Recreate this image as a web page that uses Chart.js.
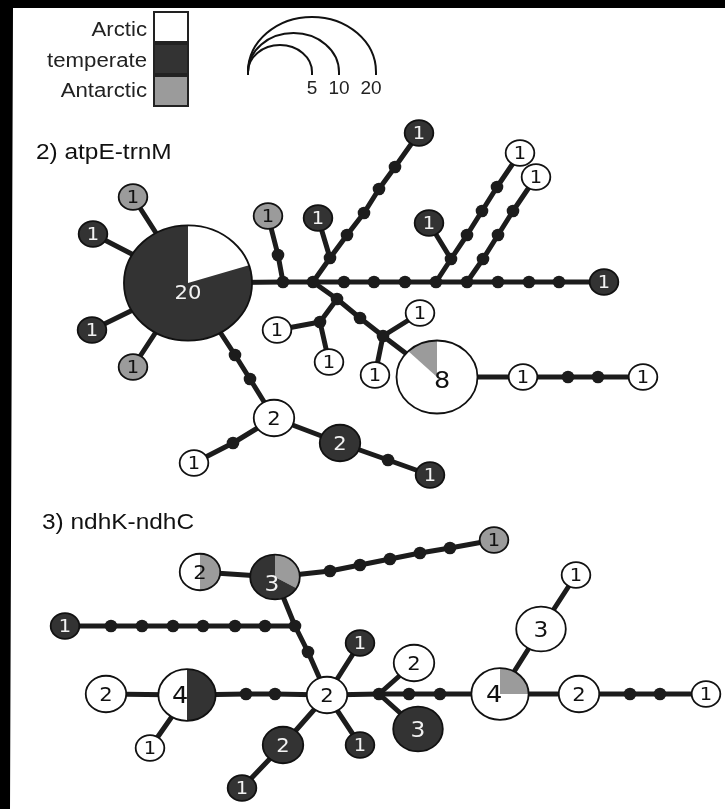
<!DOCTYPE html>
<html><head><meta charset="utf-8">
<script src="https://cdn.jsdelivr.net/npm/chart.js@4.4.1/dist/chart.umd.min.js"></script>
<style>html,body{margin:0;padding:0;background:#fff;overflow:hidden}canvas{display:block}</style>
</head><body>
<div style="width:725px;height:809px"><canvas id="c" width="725" height="809"></canvas></div>
<script>
// ---------------- DATA ----------------
const regions = ["Arctic", "temperate", "Antarctic"];
const sizeScaleValues = [5, 10, 20];
const panelTitles = ["2) atpE-trnM", "3) ndhK-ndhC"];

// haplotypes: [id, x, y, slices clockwise from 12 o'clock as [regionIndex, count]]
const atpNodes = [
  ["A20",188,283,[[0,4],[1,16]]],
  ["g1a",133,197,[[2,1]]],
  ["d1a",93,234,[[1,1]]],
  ["d1b",92,330,[[1,1]]],
  ["g1b",133,367,[[2,1]]],
  ["g1c",268,216,[[2,1]]],
  ["d1c",318,218,[[1,1]]],
  ["d1d",419,133,[[1,1]]],
  ["d1e",429,223,[[1,1]]],
  ["w1a",520,153,[[0,1]]],
  ["w1b",536,177,[[0,1]]],
  ["d1f",604,282,[[1,1]]],
  ["w1c",277,330,[[0,1]]],
  ["w1d",329,362,[[0,1]]],
  ["w1e",420,313,[[0,1]]],
  ["w1f",375,375,[[0,1]]],
  ["W8",437,377,[[0,7],[2,1]]],
  ["w1g",523,377,[[0,1]]],
  ["w1h",643,377,[[0,1]]],
  ["w2a",274,418,[[0,2]]],
  ["w1i",194,463,[[0,1]]],
  ["d2a",340,443,[[1,2]]],
  ["d1g",430,475,[[1,1]]]
];
// median vectors / mutation steps: [id, x, y]
const atpMedians = [
  ["m1",278,255],["j1",283,282],["j2",313,282],["h1",344,282],["h2",374,282],["h3",405,282],
  ["j3",436,282],["j4",467,282],["h4",498,282],["h5",529,282],["h6",559,282],
  ["j5",330,258],["a2",347,235],["a3",364,213],["a4",379,189],["a5",395,167],
  ["j6",451,259],["b2",467,235],["b3",482,211],["b4",497,187],
  ["c1",483,259],["c2",498,235],["c3",513,211],
  ["j7",337,299],["j8",320,322],["k1",360,318],["j9",383,336],
  ["r1",568,377],["r2",598,377],
  ["s1",235,355],["s2",250,379],["s3",233,443],["s4",388,460]
];
const atpPaths = [
  ["A20","j1","j2","h1","h2","h3","j3","j4","h4","h5","h6","d1f"],
  ["A20","g1a"],["A20","d1a"],["A20","d1b"],["A20","g1b"],
  ["g1c","m1","j1"],
  ["j2","j5","a2","a3","a4","a5","d1d"],
  ["d1c","j5"],
  ["j3","j6","b2","b3","b4","w1a"],
  ["d1e","j6"],
  ["j4","c1","c2","c3","w1b"],
  ["j2","j7","k1","j9","W8","w1g","r1","r2","w1h"],
  ["j7","j8","w1c"],["j8","w1d"],
  ["j9","w1e"],["j9","w1f"],
  ["A20","s1","s2","w2a","d2a","s4","d1g"],
  ["w2a","s3","w1i"]
];

const ndhNodes = [
  ["wg2",200,572,[[2,1],[0,1]]],
  ["dg3",275,577,[[2,1],[1,2]]],
  ["g1",494,540,[[2,1]]],
  ["d1L",65,626,[[1,1]]],
  ["w2c",327,695,[[0,2]]],
  ["d1u",360,643,[[1,1]]],
  ["d1dr",360,745,[[1,1]]],
  ["d2b",283,745,[[1,2]]],
  ["d1bl",242,788,[[1,1]]],
  ["w2ur",414,663,[[0,2]]],
  ["d3",418,729,[[1,3]]],
  ["W4L",187,695,[[1,2],[0,2]]],
  ["w2L",106,694,[[0,2]]],
  ["w1L",150,748,[[0,1]]],
  ["W4R",500,694,[[2,1],[0,3]]],
  ["w3",541,629,[[0,3]]],
  ["w1t",576,575,[[0,1]]],
  ["w2R",579,694,[[0,2]]],
  ["w1R",706,694,[[0,1]]]
];
const ndhMedians = [
  ["e1",330,571],["e2",360,565],["e3",390,559],["e4",420,553],["e5",450,548],
  ["f1",111,626],["f2",142,626],["f3",173,626],["f4",203,626],["f5",235,626],["f6",265,626],["J",295,626],
  ["q1",308,652],
  ["l1",246,694],["l2",275,694],
  ["K",379,694],["t1",409,694],["t2",440,694],
  ["u1",630,694],["u2",660,694]
];
const ndhPaths = [
  ["wg2","dg3","e1","e2","e3","e4","e5","g1"],
  ["d1L","f1","f2","f3","f4","f5","f6","J"],
  ["dg3","J","q1","w2c"],
  ["w2L","W4L","l1","l2","w2c","K","t1","t2","W4R","w2R","u1","u2","w1R"],
  ["W4L","w1L"],
  ["w2c","d1u"],["w2c","d1dr"],["w2c","d2b","d1bl"],
  ["K","w2ur"],["K","d3"],
  ["W4R","w3","w1t"]
];

// ---------------- STYLE ----------------
const regionColors = ["#ffffff", "#333333", "#9b9b9b"];
const LINE = "#1c1c1c";
const SX = 1.11;                 // horizontal stretch of the original figure
const labelOffset = { A20:[0,9], W8:[5,3], dg3:[-3,6], W4L:[-7,0], W4R:[-6,0] };
const labelSize = {1:17.5, 2:19, 3:21, 4:23, 8:23, 20:19};

// ---------------- BUILD ----------------
const pos = {};
[...atpNodes, ...ndhNodes, ...atpMedians, ...ndhMedians].forEach(n => { pos[n[0]] = {x:n[1], y:n[2]}; });
const total = s => s.reduce((a, b) => a + b[1], 0);
const radiusOf = s => 12.9 * Math.sqrt(total(s));

const datasets = [];
[...atpPaths, ...ndhPaths].forEach(p => {
  datasets.push({
    data: p.map(id => ({x: pos[id].x, y: pos[id].y})),
    showLine: true, pointRadius: 0, borderColor: LINE, borderWidth: 5,
    borderCapStyle: 'round', borderJoinStyle: 'round', order: 3, clip: false
  });
});
datasets.push({
  data: [...atpMedians, ...ndhMedians].map(m => ({x: m[1], y: m[2]})),
  pointRadius: 6.3, backgroundColor: LINE, borderWidth: 0, showLine: false, order: 2, clip: false
});
const nodeData = [...atpNodes, ...ndhNodes].map(n => ({x: n[1], y: n[2], id: n[0], slices: n[3]}));
datasets.push({
  data: nodeData, isNodes: true,
  pointRadius: ctx => ctx.raw ? radiusOf(ctx.raw.slices) : 0,
  backgroundColor: "#ffffff", borderWidth: 0, showLine: false, order: 1, clip: false
});

function stretchText(ctx, txt, x, y) {
  ctx.save(); ctx.translate(x, y); ctx.scale(SX, 1); ctx.fillText(txt, 0, 0); ctx.restore();
}

const netPlugin = {
  id: 'net',
  beforeDraw(chart) {
    const ctx = chart.ctx;
    ctx.save();
    ctx.fillStyle = "#fff"; ctx.fillRect(0, 0, 725, 809);
    ctx.fillStyle = "#000";
    ctx.beginPath();
    ctx.moveTo(0,0); ctx.lineTo(725,0); ctx.lineTo(725,8); ctx.lineTo(13,8); ctx.lineTo(10,809); ctx.lineTo(0,809);
    ctx.closePath(); ctx.fill();
    ctx.restore();
  },
  afterDatasetsDraw(chart) {
    const ctx = chart.ctx;
    ctx.save();
    // haplotype pies
    const di = chart.data.datasets.findIndex(d => d.isNodes);
    const meta = chart.getDatasetMeta(di);
    meta.data.forEach((el, i) => {
      const d = chart.data.datasets[di].data[i];
      const ry = radiusOf(d.slices), rx = ry * SX, n = total(d.slices);
      let a = -Math.PI / 2;
      d.slices.forEach(s => {
        const span = s[1] / n * Math.PI * 2;
        ctx.beginPath();
        ctx.moveTo(el.x, el.y);
        ctx.ellipse(el.x, el.y, rx, ry, 0, a, a + span);
        ctx.closePath();
        ctx.fillStyle = regionColors[s[0]];
        ctx.fill();
        a += span;
      });
      ctx.beginPath();
      ctx.ellipse(el.x, el.y, rx, ry, 0, 0, Math.PI * 2);
      ctx.lineWidth = 1.8; ctx.strokeStyle = "#111"; ctx.stroke();
      const temp = d.slices.filter(s => s[0] === 1).reduce((q, s) => q + s[1], 0);
      const off = labelOffset[d.id] || [0, 0];
      const fs = labelSize[n] || 17;
      ctx.font = fs + "px 'DejaVu Sans'";
      ctx.textAlign = "center"; ctx.textBaseline = "alphabetic";
      ctx.fillStyle = temp / n > 0.5 ? "#f2f2f2" : "#111";
      stretchText(ctx, String(n), el.x + off[0], el.y + off[1] + fs * 0.365);
    });

    // legend
    ctx.font = "20px 'Liberation Sans', Arial, sans-serif";
    ctx.textAlign = "right"; ctx.textBaseline = "alphabetic"; ctx.fillStyle = "#222";
    const boxY = [12, 44, 76];
    const txtY = [36, 67, 97];
    regions.forEach((r, i) => {
      ctx.fillStyle = "#222";
      stretchText(ctx, r, 147, txtY[i]);
      ctx.fillStyle = regionColors[i];
      ctx.fillRect(154, boxY[i], 34, 30);
      ctx.lineWidth = 2; ctx.strokeStyle = "#222";
      ctx.strokeRect(154, boxY[i], 34, 30);
    });
    // size scale arcs
    const arcRight = [312, 339, 376];
    const arcTop = [45, 33, 17];
    const labX = [312, 339, 371];
    ctx.lineWidth = 2; ctx.strokeStyle = "#111";
    sizeScaleValues.forEach((v, i) => {
      const rx = (arcRight[i] - 248) / 2, cx = 248 + rx, ry = 72 - arcTop[i];
      ctx.beginPath();
      ctx.moveTo(248, 75);
      ctx.ellipse(cx, 72, rx, ry, 0, Math.PI, Math.PI * 2);
      ctx.lineTo(arcRight[i], 75);
      ctx.stroke();
    });
    ctx.font = "19px 'Liberation Sans', Arial, sans-serif";
    ctx.textAlign = "center"; ctx.fillStyle = "#222";
    sizeScaleValues.forEach((v, i) => ctx.fillText(String(v), labX[i], 94));

    // panel titles
    ctx.font = "22px 'Liberation Sans', Arial, sans-serif";
    ctx.textAlign = "left"; ctx.fillStyle = "#111";
    stretchText(ctx, panelTitles[0], 36, 159);
    stretchText(ctx, panelTitles[1], 42, 529);
    ctx.restore();
  }
};

new Chart(document.getElementById('c'), {
  type: 'scatter',
  data: { datasets },
  options: {
    responsive: false, animation: false, devicePixelRatio: 1, events: [],
    layout: { padding: 0, autoPadding: false },
    plugins: { legend: { display: false }, tooltip: { enabled: false }, title: { display: false } },
    scales: {
      x: { type: 'linear', min: 0, max: 725, display: false },
      y: { type: 'linear', min: 0, max: 809, reverse: true, display: false }
    }
  },
  plugins: [netPlugin]
});
</script>
</body></html>
